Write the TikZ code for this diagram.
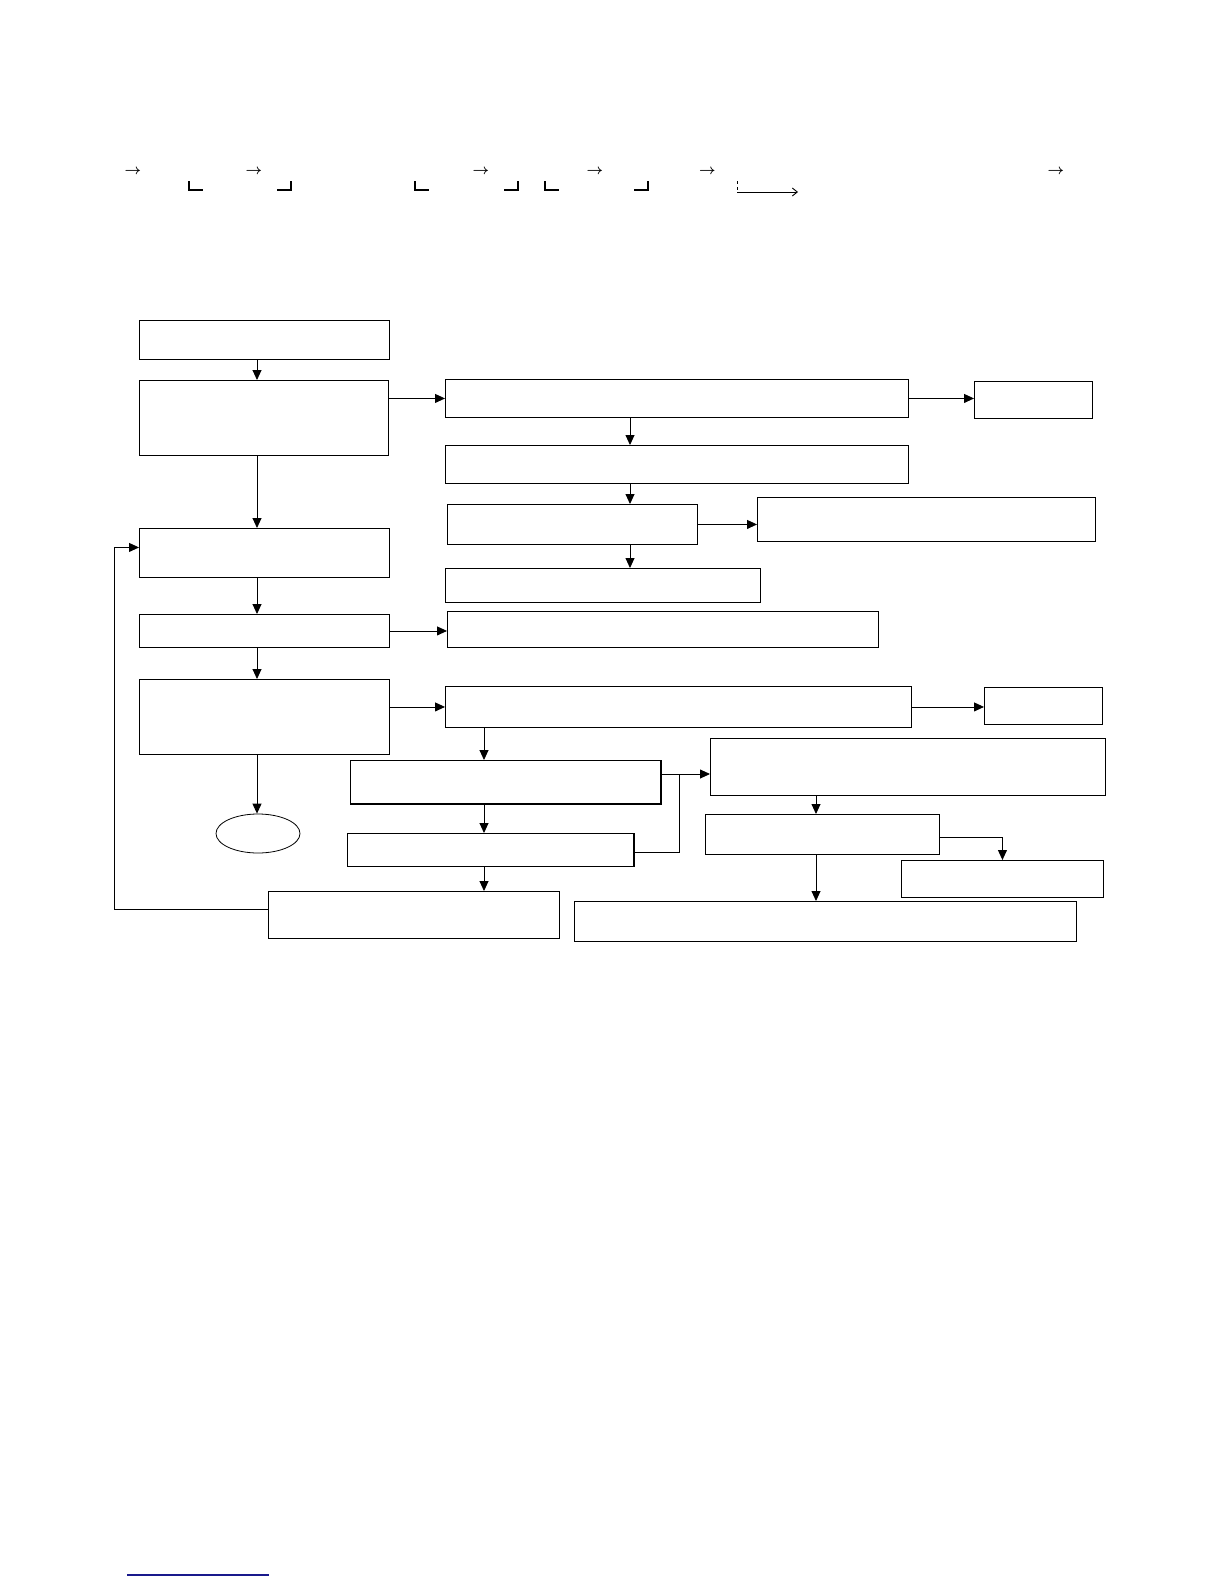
\documentclass[tikz,border=0pt]{standalone}
\usepackage{amsmath}
\usepackage{xcolor}
\usepackage{tikz}
\usetikzlibrary{arrows.meta,shapes.geometric}

\definecolor{linkblue}{RGB}{25,25,140}

\tikzset{
	box/.style={draw, line width=0.9pt, inner sep=0pt, anchor=north west},
	endoval/.style={draw, ellipse, line width=0.8pt, inner sep=0pt, minimum width=84pt, minimum height=39pt},
	flow/.style={line width=0.9pt, -{Triangle[length=10pt,width=9pt]}},
	link/.style={line width=0.9pt},
	corner/.style={line width=1.8pt},
	glyph/.style={inner sep=0pt, font=\fontsize{14}{16}\selectfont},
}

\begin{document}
\begin{tikzpicture}[x=1pt,y=-1pt]
	\fill[white] (0,0) rectangle (1224,1584);
	\useasboundingbox (0,0) rectangle (1224,1584);

	% top line
	\node[glyph] (ta) at (133,172) {$\boldsymbol{\rightarrow}$};
	\node[glyph] (tb) at (254,172) {$\boldsymbol{\rightarrow}$};
	\node[glyph] (tc) at (481,172) {$\boldsymbol{\rightarrow}$};
	\node[glyph] (td) at (595,172) {$\boldsymbol{\rightarrow}$};
	\node[glyph] (te) at (707.5,172) {$\boldsymbol{\rightarrow}$};
	\node[glyph] (tf) at (1056,172) {$\boldsymbol{\rightarrow}$};
	\foreach \a in {189,415,545}
		\draw[corner] (\a,181) -- (\a,190) -- (\a+14,190);
	\foreach \a in {291,518,648}
		\draw[corner] (\a,181) -- (\a,190) -- (\a-14,190);
	\draw[line width=0.7pt, dashed] (737,181) -- (737,191);
	\coordinate (tg) at (737,192);
	\draw[line width=0.9pt, -{Straight Barb[length=5pt,width=8pt]}] (tg) -- (798,192);

	% left column
	\node[box, minimum width=250pt, minimum height=39pt] (init) at (139,320) {};
	\node[box, minimum width=249pt, minimum height=75pt] (setup) at (139,380) {};
	\node[box, minimum width=250pt, minimum height=49pt] (loop) at (139,528) {};
	\node[box, minimum width=250pt, minimum height=33pt] (fetch) at (139,614) {};
	\node[box, minimum width=250pt, minimum height=75pt] (decide) at (139,679) {};
	\node[endoval] (finish) at (258,833.5) {};

	% upper branch
	\node[box, minimum width=463pt, minimum height=38pt] (chk) at (445,379) {};
	\node[box, minimum width=118pt, minimum height=37pt] (err1) at (974,381) {};
	\node[box, minimum width=463pt, minimum height=38pt] (cfg) at (445,445) {};
	\node[box, minimum width=250pt, minimum height=40pt] (test) at (447,504) {};
	\node[box, minimum width=338pt, minimum height=44pt] (fix) at (757,497) {};
	\node[box, minimum width=315pt, minimum height=34pt] (store) at (445,568) {};
	\node[box, minimum width=431pt, minimum height=36pt] (show) at (447,611) {};

	% lower branch
	\node[box, minimum width=466pt, minimum height=41pt] (eval) at (445,686) {};
	\node[box, minimum width=118pt, minimum height=37pt] (err2) at (984,687) {};
	\node[box, minimum width=310pt, minimum height=43pt] (calc) at (350,760) {};
	\node[box, minimum width=286pt, minimum height=33pt] (upd) at (347,833) {};
	\node[box, minimum width=395pt, minimum height=57pt] (save) at (710,738) {};
	\node[box, minimum width=234pt, minimum height=40pt] (cmp) at (705,814) {};
	\node[box, minimum width=202pt, minimum height=37pt] (warn) at (901,860) {};
	\node[box, minimum width=291pt, minimum height=47pt] (next) at (268,891) {};
	\node[box, minimum width=502pt, minimum height=40pt] (report) at (574,901) {};
	\draw[corner] (calc.south west) -- (calc.south east) -- (calc.north east);
	\draw[corner] (upd.north east) -- (upd.south east);

	% connectors
	\coordinate (lx) at (257,0);
	\coordinate (mx) at (630,0);
	\coordinate (jx) at (484,0);
	\coordinate (nx) at (816,0);
	\draw[flow] (init.south -| lx) -- (setup.north -| lx);
	\draw[flow] (setup.south -| lx) -- (loop.north -| lx);
	\draw[flow] (loop.south -| lx) -- (fetch.north -| lx);
	\draw[flow] (fetch.south -| lx) -- (decide.north -| lx);
	\draw[flow] (decide.south -| lx) -- (finish.north -| lx);
	\draw[flow] (setup.east |- chk.west) -- (chk.west);
	\draw[flow] (chk.east) -- (chk.east -| err1.west);
	\draw[flow] (chk.south -| mx) -- (cfg.north -| mx);
	\draw[flow] (cfg.south -| mx) -- (test.north -| mx);
	\draw[flow] (test.east) -- (test.east -| fix.west);
	\draw[flow] (test.south -| mx) -- (store.north -| mx);
	\draw[flow] (fetch.east) -- (fetch.east -| show.west);
	\draw[flow] (decide.east |- eval.west) -- (eval.west);
	\draw[flow] (eval.east) -- (eval.east -| err2.west);
	\draw[flow] (eval.south -| jx) -- (calc.north -| jx);
	\draw[flow] (calc.south -| jx) -- (upd.north -| jx);
	\draw[flow] (upd.south -| jx) -- (next.north -| jx);
	\coordinate (join) at (679,774);
	\draw[flow] (calc.east |- join) -- (save.west |- join);
	\draw[link] ([yshift=-2.5pt]upd.east) -| (join);
	\draw[flow] (save.south -| nx) -- (cmp.north -| nx);
	\draw[flow] ([yshift=-3pt]cmp.east) -| (warn.north);
	\draw[flow] (cmp.south -| nx) -- (report.north -| nx);
	\coordinate (back) at (114,909);
	\draw[flow] (next.west |- back) -- (back) |- ([yshift=5.5pt]loop.west);

	% link at the foot of the page
	\draw[linkblue, line width=1.6pt] (127,1575) -- (269,1575);
\end{tikzpicture}
\end{document}
